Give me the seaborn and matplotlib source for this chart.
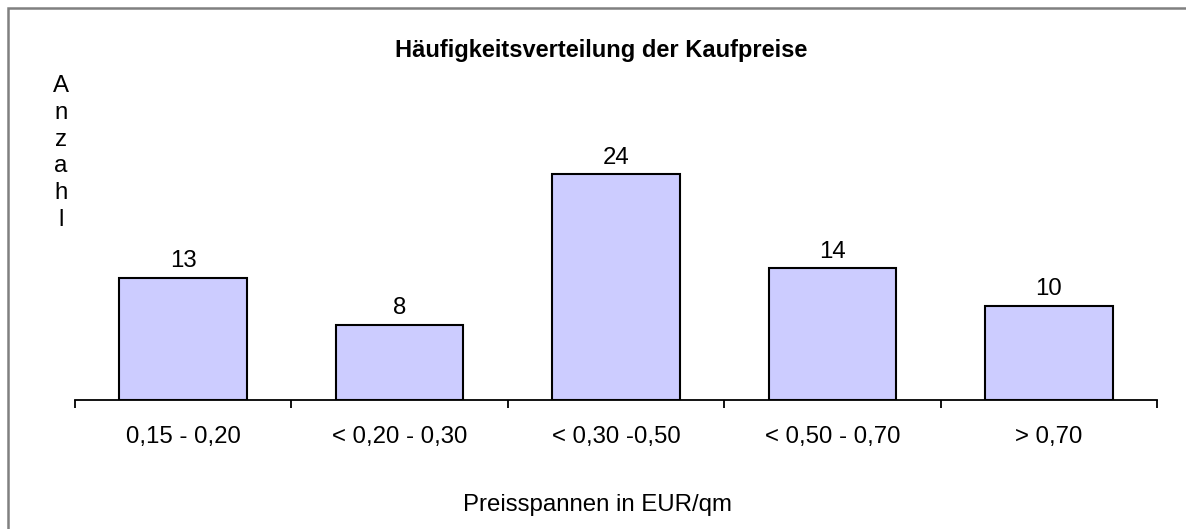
import matplotlib
matplotlib.use("Agg")
import matplotlib.pyplot as plt
import seaborn as sns
from matplotlib.patches import Rectangle

categories = ["0,15 - 0,20", "< 0,20 - 0,30", "< 0,30 -0,50", "< 0,50 - 0,70", "> 0,70"]
counts = [13, 8, 24, 14, 10]

title = "Häufigkeitsverteilung der Kaufpreise"
xlabel = "Preisspannen in EUR/qm"
ylabel = "Anzahl"

sns.set_style("white")
plt.rcParams["font.family"] = ["Liberation Sans", "DejaVu Sans"]
plt.rcParams["text.color"] = "black"
plt.rcParams["xtick.color"] = "black"
plt.rcParams["xtick.labelcolor"] = "black"

FS = 17.3
W, H = 1186, 529
fig = plt.figure(figsize=(W / 100, H / 100), dpi=100)
ax = fig.add_axes([75 / W, 1 - 400 / H, (1157 - 75) / W, (400 - 118) / H])

sns.barplot(x=categories, y=counts, color="#CCCCFF", saturation=1,
            edgecolor="black", linewidth=1.5, width=0.59, ax=ax)
ax.bar_label(ax.containers[0], fontsize=FS, padding=4, color="black")

ax.set_xlim(-0.5, len(categories) - 0.5)
ax.set_ylim(0, 30)
ax.set_yticks([])
ax.set_xlabel("")
ax.set_ylabel("")

# labels at category centres, tick marks at category boundaries
ax.set_xticks(range(len(categories)))
ax.set_xticklabels(categories, fontsize=FS)
ax.tick_params(axis="x", which="major", bottom=True, length=0, pad=19)
ax.set_xticks([i - 0.5 for i in range(len(categories) + 1)], minor=True)
ax.tick_params(axis="x", which="minor", bottom=True, length=5.5, width=1.3,
               color="black", direction="out")

for s in ["left", "top", "right"]:
    ax.spines[s].set_visible(False)
ax.spines["bottom"].set_color("black")
ax.spines["bottom"].set_linewidth(1.3)

fig.text(601 / W, 1 - 51 / H, title, fontsize=FS - 0.3, fontweight="bold", ha="center", va="center")
fig.text(597 / W, 1 - 505 / H, xlabel, fontsize=FS, ha="center", va="center")
fig.text(61 / W, 1 - 75 / H, "\n".join(ylabel), fontsize=FS, ha="center", va="top", linespacing=1.28)

fig.patches.append(Rectangle((8 / W, -0.05), 1.2, 1.05 - 8 / H, transform=fig.transFigure,
                             fill=False, edgecolor="#808080", linewidth=1.8))

fig.savefig("out.png", dpi=100)
